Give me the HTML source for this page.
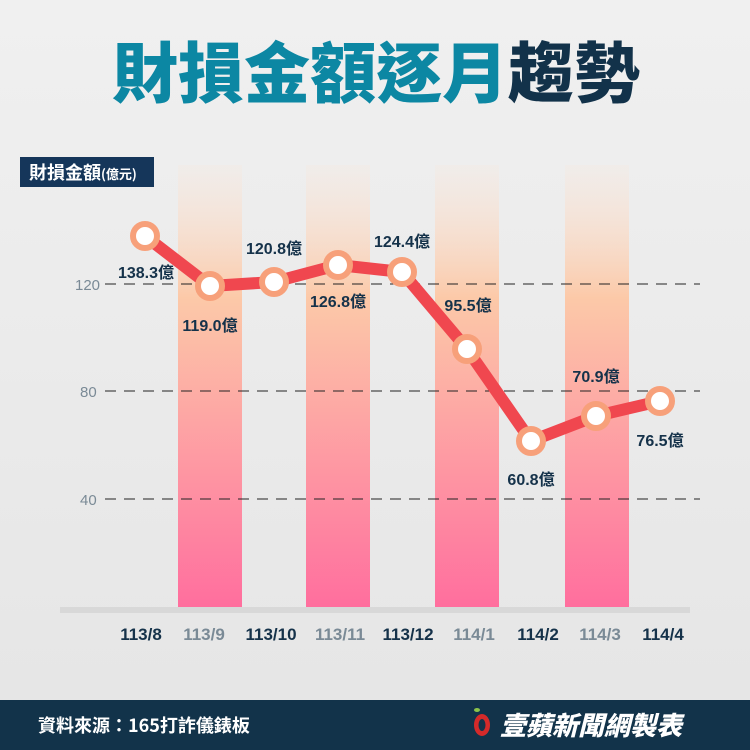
<!DOCTYPE html>
<html><head><meta charset="utf-8"><style>
body{margin:0;width:750px;height:750px;overflow:hidden;background:#e8e8e8;font-family:"Liberation Sans","Noto Sans CJK TC",sans-serif;}
</style></head><body>
<svg width="750" height="750" viewBox="0 0 750 750" xmlns="http://www.w3.org/2000/svg" style="display:block">
<defs>
<linearGradient id="bg" x1="0" y1="0" x2="0" y2="1">
<stop offset="0" stop-color="#f0f0f0"/><stop offset="1" stop-color="#e6e6e6"/></linearGradient>
<linearGradient id="bar" x1="0" y1="0" x2="0" y2="1">
<stop offset="0" stop-color="#fbe6d8" stop-opacity="0.2"/>
<stop offset="0.3" stop-color="#fcc9a8"/>
<stop offset="1" stop-color="#ff6e9e"/></linearGradient>
</defs>
<rect width="750" height="700" fill="url(#bg)"/>
<text x="376" y="97" text-anchor="middle" font-size="66" font-weight="900" font-family="'Noto Sans CJK TC',sans-serif" fill="#0c87a3">財損金額逐月<tspan fill="#12324a">趨勢</tspan></text>
<rect x="20" y="157" width="134" height="30" fill="#15365a"/>
<text x="29" y="179" font-size="18" font-weight="700" fill="#fff" font-family="'Noto Sans CJK TC',sans-serif">財損金額<tspan font-size="13">(億元)</tspan></text>
<g fill="url(#bar)">
<rect x="178" y="165" width="64" height="443"/>
<rect x="306" y="165" width="64" height="443"/>
<rect x="435" y="165" width="64" height="443"/>
<rect x="565" y="165" width="64" height="443"/>
</g>
<rect x="60" y="607" width="630" height="6" fill="#d8d8d8"/>
<g stroke="#222" stroke-width="1" stroke-dasharray="11,8">
<line x1="105" y1="284" x2="700" y2="284"/>
<line x1="105" y1="391" x2="700" y2="391"/>
<line x1="105" y1="499" x2="700" y2="499"/>
</g>
<g fill="#7a8a96" font-size="15">
<text x="75" y="290">120</text><text x="80" y="397">80</text><text x="80" y="505">40</text>
</g>
<polyline points="145,236 210,286 274,282 338,265 402,272 467,349 531,441 596,416 660,401" fill="none" stroke="#f0474f" stroke-width="12" stroke-linejoin="round"/>
<g fill="#fff" stroke="#f7a07a" stroke-width="6">
<circle cx="145" cy="236" r="12"/><circle cx="210" cy="286" r="12"/><circle cx="274" cy="282" r="12"/>
<circle cx="338" cy="265" r="12"/><circle cx="402" cy="272" r="12"/><circle cx="467" cy="349" r="12"/>
<circle cx="531" cy="441" r="12"/><circle cx="596" cy="416" r="12"/><circle cx="660" cy="401" r="12"/>
</g>
<g fill="#15324a" font-size="16" font-weight="700" text-anchor="middle">
<text x="146" y="278">138.3億</text>
<text x="210" y="331">119.0億</text>
<text x="274" y="254">120.8億</text>
<text x="338" y="307">126.8億</text>
<text x="402" y="247">124.4億</text>
<text x="468" y="311">95.5億</text>
<text x="531" y="485">60.8億</text>
<text x="596" y="382">70.9億</text>
<text x="660" y="446">76.5億</text>
</g>
<g font-size="17" font-weight="700" text-anchor="middle">
<text x="141" y="640" fill="#15324a">113/8</text>
<text x="204" y="640" fill="#7a8a96">113/9</text>
<text x="271" y="640" fill="#15324a">113/10</text>
<text x="340" y="640" fill="#7a8a96">113/11</text>
<text x="408" y="640" fill="#15324a">113/12</text>
<text x="474" y="640" fill="#7a8a96">114/1</text>
<text x="538" y="640" fill="#15324a">114/2</text>
<text x="600" y="640" fill="#7a8a96">114/3</text>
<text x="663" y="640" fill="#15324a">114/4</text>
</g>
<rect x="0" y="700" width="750" height="50" fill="#12334a"/>
<text x="38" y="732" font-size="18" font-weight="700" fill="#fff" font-family="'Noto Sans CJK TC',sans-serif">資料來源：165打詐儀錶板</text>
<ellipse cx="482" cy="725" rx="8" ry="11" fill="#d42a2a"/>
<ellipse cx="482" cy="725" rx="3.5" ry="6" fill="#12334a"/>
<ellipse cx="477" cy="710" rx="3" ry="2" fill="#8bc34a"/>
<text x="500" y="735" font-size="26" font-weight="900" font-style="italic" fill="#fff" font-family="'Noto Sans CJK TC',sans-serif">壹蘋新聞網製表</text>
</svg>
</body></html>
